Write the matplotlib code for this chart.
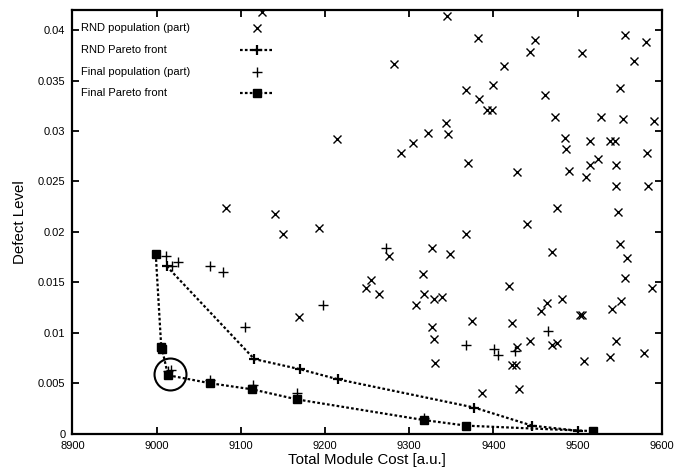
import matplotlib
matplotlib.use("Agg")
import matplotlib.pyplot as plt
from matplotlib.ticker import FuncFormatter

plt.rcParams['font.family'] = ['Liberation Sans', 'DejaVu Sans']

# RND population (part)
rnd_pop_x = [9125, 9282, 9214, 9141, 9290, 9304, 9322, 9344, 9346, 9345,
             9382, 9449, 9443, 9505, 9556, 9581, 9567, 9412, 9368, 9400,
             9383, 9392, 9398, 9461, 9550, 9473, 9528, 9554, 9591, 9485,
             9486, 9515, 9539, 9544, 9582, 9370, 9428, 9490, 9515, 9524,
             9546, 9510, 9545, 9584, 9476, 9548, 9082, 9150, 9193, 9276,
             9327, 9349, 9367, 9316, 9255, 9249, 9264, 9318, 9330, 9339,
             9308, 9169, 9327, 9329, 9331, 9440, 9550, 9469, 9559, 9556,
             9588, 9419, 9482, 9464, 9456, 9551, 9541, 9503, 9505, 9374,
             9422, 9443, 9545, 9469, 9476, 9428, 9508, 9539, 9579, 9422,
             9427, 9386, 9430]
rnd_pop_y = [0.0418, 0.0366, 0.0292, 0.0218, 0.0278, 0.0288, 0.0298, 0.0308, 0.0297, 0.0414,
             0.0392, 0.0390, 0.0378, 0.0377, 0.0395, 0.0388, 0.0369, 0.0364, 0.0341, 0.0346,
             0.0332, 0.0321, 0.0321, 0.0336, 0.0343, 0.0314, 0.0314, 0.0312, 0.0310, 0.0293,
             0.0282, 0.0290, 0.0290, 0.0290, 0.0278, 0.0268, 0.0259, 0.0260, 0.0266, 0.0272,
             0.0266, 0.0254, 0.0246, 0.0246, 0.0224, 0.0220, 0.0224, 0.0198, 0.0204, 0.0176,
             0.0184, 0.0178, 0.0198, 0.0158, 0.0152, 0.0144, 0.0138, 0.0138, 0.0134, 0.0136,
             0.0128, 0.0116, 0.0106, 0.0094, 0.0070, 0.0208, 0.0188, 0.0180, 0.0174, 0.0154,
             0.0144, 0.0146, 0.0134, 0.0130, 0.0122, 0.0132, 0.0124, 0.0118, 0.0118, 0.0112,
             0.0110, 0.0092, 0.0092, 0.0088, 0.0090, 0.0086, 0.0072, 0.0076, 0.0080, 0.0068,
             0.0068, 0.0040, 0.0044]

# RND Pareto front
rnd_front_x = [9012, 9116, 9170, 9215, 9377, 9446, 9500]
rnd_front_y = [0.0166, 0.0074, 0.0064, 0.0054, 0.0026, 0.0008, 0.0003]

# Final population (part)
final_pop_x = [9011, 9018, 9025, 9064, 9079, 9105, 9198, 9272, 9368, 9401,
               9406, 9426, 9465, 9014, 9017, 9064, 9114, 9167, 9318]
final_pop_y = [0.01765, 0.0166, 0.0170, 0.0166, 0.0160, 0.0106, 0.0128, 0.0184, 0.0088, 0.0084,
               0.0078, 0.0082, 0.0102, 0.0062, 0.0063, 0.0053, 0.0048, 0.0040, 0.0016]

# Final Pareto front
final_front_x = [8999, 9005.5, 9006.5, 9013.5, 9064, 9113.6, 9167, 9318, 9368, 9518]
final_front_y = [0.01778, 0.0086, 0.0084, 0.0058, 0.0050, 0.0044, 0.0034, 0.00135, 0.0008, 0.00026]

# highlighted point
circle_x, circle_y = 9015.5, 0.0059

fig = plt.figure(figsize=(6.83, 4.73), dpi=100)
ax = fig.add_axes([0.106, 0.083, 0.863, 0.896])

dots = (0, (1.2, 1.0))
ax.plot(rnd_pop_x, rnd_pop_y, linestyle="none", marker="x", color="black",
        markersize=5.2, markeredgewidth=1.0)
ax.plot(final_pop_x, final_pop_y, linestyle="none", marker="+", color="black",
        markersize=6.5, markeredgewidth=1.0)
ax.plot(rnd_front_x, rnd_front_y, linestyle=dots, linewidth=1.6, marker="+",
        color="black", markersize=6.5, markeredgewidth=1.6)
ax.plot(final_front_x, final_front_y, linestyle=dots, linewidth=1.6, marker="s",
        color="black", markersize=5.5)
ax.plot([circle_x], [circle_y], marker="o", markersize=23, markerfacecolor="none",
        markeredgecolor="black", markeredgewidth=1.5, linestyle="none")

ax.set_xlim(8900, 9600)
ax.set_ylim(0, 0.042)
ax.set_xticks(range(8900, 9601, 100))
ax.set_yticks([0, 0.005, 0.01, 0.015, 0.02, 0.025, 0.03, 0.035, 0.04])
ax.yaxis.set_major_formatter(FuncFormatter(lambda v, p: "%g" % v))
ax.tick_params(direction="in", length=5, width=1.3, top=True, right=True,
               labelsize=8, pad=5)
for s in ax.spines.values():
    s.set_linewidth(1.6)

ax.set_xlabel("Total Module Cost [a.u.]", fontsize=10.8, labelpad=2)
ax.set_ylabel("Defect Level", fontsize=10.8, labelpad=8)

# gnuplot-like key: text on the left, sample on the right
labels = ["RND population (part)", "RND Pareto front",
          "Final population (part)", "Final Pareto front"]
styles = [dict(marker="x", linestyle="none", markersize=5.2, markeredgewidth=1.0),
          dict(marker="+", linestyle=dots, linewidth=1.6, markersize=6.5, markeredgewidth=1.6),
          dict(marker="+", linestyle="none", markersize=6.5, markeredgewidth=1.0),
          dict(marker="s", linestyle=dots, linewidth=1.6, markersize=5.5)]
row_y = [0.9575, 0.9056, 0.8536, 0.8041]
for lab, st, yy in zip(labels, styles, row_y):
    ax.text(0.014, yy, lab, transform=ax.transAxes, fontsize=8, va="center", ha="left")
    ax.plot([0.284, 0.3125, 0.341], [yy, yy, yy], transform=ax.transAxes,
            color="black", markevery=[1], clip_on=False, **st)

fig.savefig("out.png", dpi=100)
